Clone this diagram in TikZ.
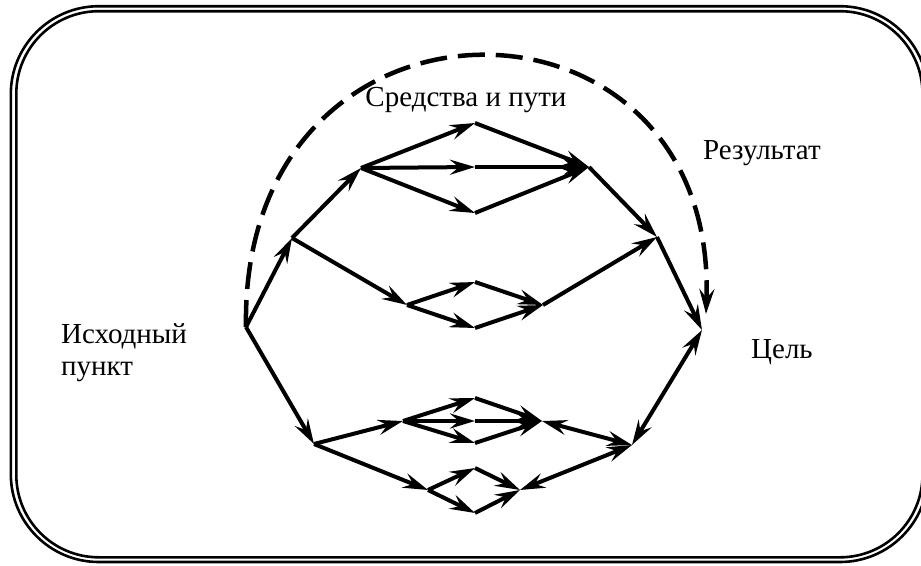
\documentclass[tikz,border=0pt]{standalone}
\usepackage{fontspec}
\setmainfont{Liberation Serif}
\usetikzlibrary{arrows.meta}

\begin{document}
\begin{tikzpicture}[x=1pt,y=-1pt,
  way/.style={line width=4pt,line join=round,-{Stealth[length=25pt,width=15pt,inset=9pt]}},
  twoway/.style={way,{Stealth[length=25pt,width=15pt,inset=9pt]}-{Stealth[length=25pt,width=15pt,inset=9pt]}},
  txt/.style={inner sep=0pt,font=\fontsize{29}{34}\selectfont}]
  \useasboundingbox (0,0) rectangle (921,565);
  \clip (0,0) rectangle (921,565);
  % double frame
  \draw[line width=2.6pt,rounded corners=88pt] (10.8,6.2) rectangle (928,562);
  \draw[line width=2.6pt,rounded corners=82.5pt] (16.3,11.2) rectangle (922.5,557.3);
  % points of the network
  \coordinate (S) at (246,327);
  \coordinate (A) at (292,238);
  \coordinate (C) at (361,168);
  \coordinate (Ct) at (475,123);
  \coordinate (Cm) at (475,167);
  \coordinate (Cb) at (475,213);
  \coordinate (D) at (589,167);
  \coordinate (E) at (657,237);
  \coordinate (G) at (702,330);
  \coordinate (Gd) at (706,314);
  \coordinate (F) at (407,305);
  \coordinate (Ft) at (475,282);
  \coordinate (Fb) at (475,328);
  \coordinate (Fm) at (543,305);
  \coordinate (B) at (314,444);
  \coordinate (H) at (403,421);
  \coordinate (Ht) at (475,398);
  \coordinate (Hm) at (475,421);
  \coordinate (Hb) at (475,443);
  \coordinate (Hj) at (542,421);
  \coordinate (I) at (428,490);
  \coordinate (It) at (475,468);
  \coordinate (Ib) at (475,513);
  \coordinate (Ij) at (520,490);
  \coordinate (J) at (632,445);
  % one-way connectors
  \foreach \a/\b in {S/A,A/C,C/Ct,C/Cm,C/Cb,Ct/D,Cm/D,Cb/D,D/E,E/G,
                     A/F,F/Ft,F/Fb,Ft/Fm,Fb/Fm,Fm/E,
                     S/B,B/H,B/I,H/Ht,H/Hm,H/Hb,Ht/Hj,Hm/Hj,Hb/Hj,
                     I/It,I/Ib,It/Ij,Ib/Ij}
    \draw[way] (\a) -- (\b);
  % two-way connectors
  \foreach \a/\b in {J/Hj,J/Ij,J/G}
    \draw[twoway] (\a) -- (\b);
  % dashed arc
  \draw[way,line width=4.5pt,dash pattern=on 27pt off 11pt]
    (S) .. controls (240,-33) and (718,-30) .. (Gd);
  % labels
  \node[txt,anchor=base] (means) at (466,106) {Средства и пути};
  \node[txt,anchor=base west] (result) at (703,159) {Результат};
  \node[txt,anchor=base west] (start1) at (61,343) {Исходный};
  \node[txt,anchor=base west] (start2) at (61,375) {пункт};
  \node[txt,anchor=base west] (goal) at (751,358) {Цель};
\end{tikzpicture}
\end{document}
